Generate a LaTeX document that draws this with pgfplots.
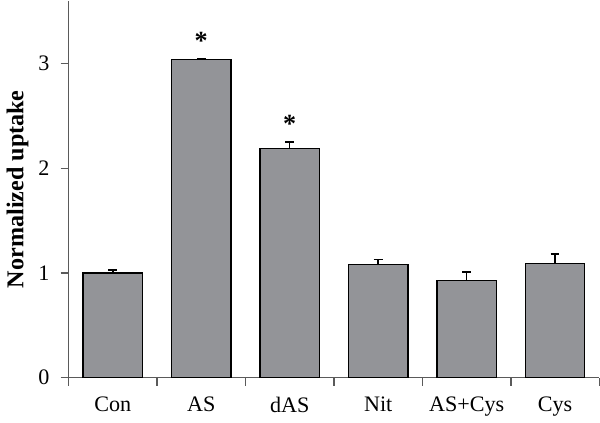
\documentclass[border=0pt]{standalone}
\usepackage{fontspec}
\setmainfont{Liberation Serif}
\usepackage{pgfplots}
\pgfplotsset{compat=1.18}
\definecolor{barfill}{RGB}{147,148,152}
\definecolor{axisgray}{RGB}{90,90,90}
\begin{document}
\begin{tikzpicture}
\begin{axis}[
    scale only axis,
    width=264pt, height=187.5pt,
    xmin=-0.5, xmax=5.5,
    ymin=0, ymax=3.6,
    axis lines*=left,
    axis line style={axisgray, line width=0.7pt},
    xtick={0,...,5},
    xticklabels={Con, AS, dAS, Nit, AS+Cys, Cys},
    minor xtick={-0.5,0.5,...,5.5},
    major x tick style={draw=none},
    minor x tick style={axisgray, line width=0.7pt},
    minor tick length=4pt,
    ytick={0,1,2,3},
    major y tick style={axisgray, line width=0.7pt},
    major tick length=4pt,
    tick align=outside,
    ticklabel style={font=\fontsize{11}{13}\selectfont},
    xticklabel style={yshift=-2pt},
    yticklabel style={xshift=-2pt},
    /pgf/number format/assume math mode=true,
    ylabel={\textbf{Normalized uptake}},
    ylabel style={font=\fontsize{12}{14}\selectfont, yshift=-2pt},
    clip=false,
]
\addplot[ybar, bar width=29.5pt, fill=barfill, draw=black, line width=0.7pt,
    error bars/.cd, y dir=plus, y explicit,
    error bar style={black, line width=0.7pt},
    error mark options={rotate=90, mark size=2.2pt, line width=0.7pt}]
coordinates {
    (0, 1.00) +- (0, 0.03)
    (1, 3.04) +- (0, 0.01)
    (2, 2.19) +- (0, 0.06)
    (3, 1.08) +- (0, 0.05)
    (4, 0.93) +- (0, 0.08)
    (5, 1.09) +- (0, 0.09)
};
\addplot[draw=none, mark=none, nodes near coords, point meta=explicit symbolic,
    every node near coord/.style={anchor=south, yshift=1pt, font=\bfseries\fontsize{13}{14}\selectfont}]
coordinates {
    (1, 3.05) [*]
    (2, 2.25) [*]
};
\end{axis}
\end{tikzpicture}
\end{document}
